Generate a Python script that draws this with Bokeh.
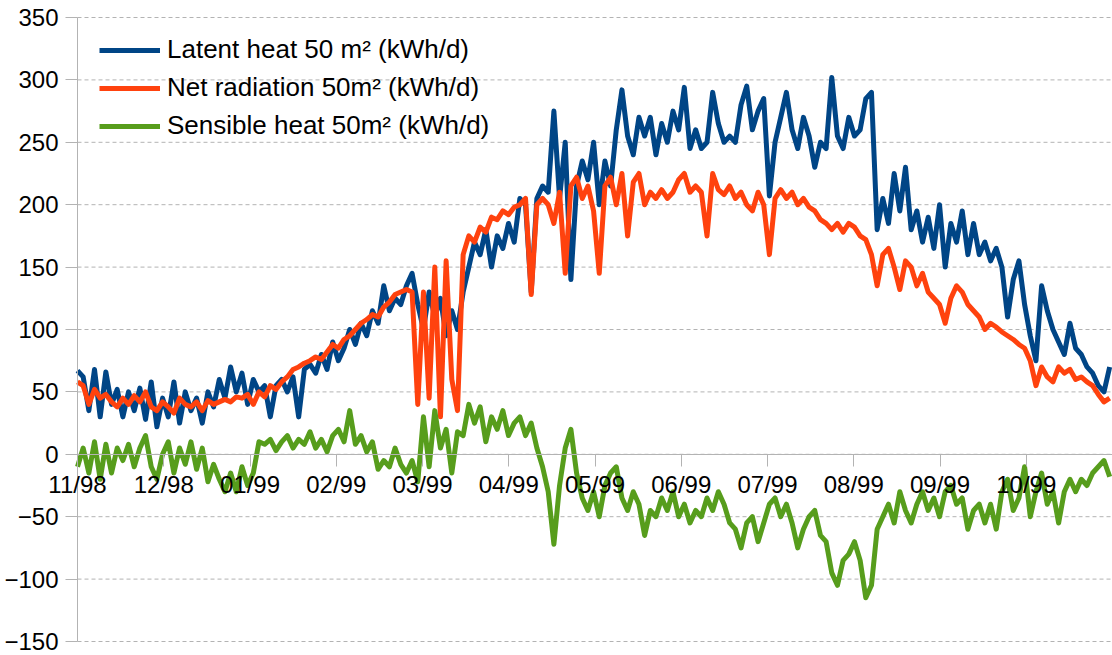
from bokeh.plotting import figure
from bokeh.models import FixedTicker, Range1d, Legend, LegendItem, ColumnDataSource, Label
from bokeh.embed import file_html
from bokeh.resources import INLINE

# month labels on the category (day) axis
month_labels = ["11/98", "12/98", "01/99", "02/99", "03/99", "04/99",
                "05/99", "06/99", "07/99", "08/99", "09/99", "10/99"]
days_in_year = 365
step_days = 2

latent = [67, 62, 35, 68, 30, 66, 40, 52, 30, 50, 35, 53, 28, 58, 22, 45, 30, 58, 25, 50,
          35, 45, 25, 50, 38, 60, 45, 70, 50, 65, 40, 60, 50, 55, 30, 55, 60, 50, 62, 30,
          68, 72, 65, 80, 68, 90, 75, 85, 100, 88, 105, 95, 115, 105, 135, 115, 125, 120, 135, 145,
          120, 100, 130, 110, 125, 95, 115, 100, 130, 150, 170, 160, 180, 150, 175, 165, 185, 170, 205, 200,
          130, 205, 215, 210, 275, 205, 250, 140, 215, 235, 220, 250, 200, 235, 215, 260, 292, 255, 240, 270,
          255, 270, 240, 265, 250, 275, 260, 294, 245, 260, 245, 250, 290, 265, 250, 255, 250, 280, 295, 260,
          275, 285, 207, 250, 270, 290, 260, 245, 270, 255, 230, 250, 245, 302, 255, 245, 270, 255, 260, 285,
          290, 180, 205, 185, 225, 195, 230, 180, 195, 170, 190, 165, 200, 150, 185, 170, 195, 160, 185, 160,
          170, 155, 165, 150, 110, 140, 155, 120, 95, 75, 135, 115, 100, 90, 80, 105, 85, 80, 70, 65,
          55, 50, 70]

net_rad = [58, 55, 40, 52, 45, 48, 42, 38, 45, 40, 47, 42, 50, 38, 35, 42, 38, 33, 45, 40,
           38, 42, 35, 43, 40, 42, 44, 42, 46, 45, 48, 40, 50, 46, 55, 52, 58, 62, 68, 70,
           73, 75, 78, 76, 82, 88, 85, 92, 95, 100, 105, 108, 112, 110, 118, 122, 128, 130, 132, 130,
           40, 130, 45, 150, 30, 155, 60, 35, 160, 175, 170, 182, 178, 190, 188, 195, 192, 198, 200, 205,
           128, 200, 205, 200, 185, 210, 145, 215, 222, 205, 215, 195, 145, 215, 222, 200, 225, 175, 218, 225,
           200, 210, 205, 212, 205, 210, 220, 225, 210, 215, 210, 175, 225, 212, 208, 215, 205, 210, 200, 195,
           210, 200, 160, 205, 212, 205, 210, 200, 205, 198, 195, 188, 185, 180, 185, 178, 185, 182, 175, 172,
           160, 135, 160, 165, 150, 132, 155, 150, 135, 145, 130, 125, 120, 105, 125, 135, 130, 120, 115, 110,
           100, 105, 102, 98, 95, 92, 88, 85, 75, 55, 70, 62, 58, 70, 65, 68, 60, 62, 58, 55,
           48, 42, 45]

sensible = [-10, 5, -15, 10, -20, 8, -15, 5, -5, 8, -10, 5, 15, -10, -20, 0, 10, -15, 5, -8,
            10, -12, 5, -22, -8, -20, -30, -15, -30, -10, -25, -15, 10, 8, 12, 3, 10, 15, 5, 12,
            8, 18, 5, 12, 2, 15, 20, 10, 35, 8, 15, 2, 10, -12, -5, -10, 5, -8, -15, -5,
            -22, 30, -10, 35, 5, 20, -15, 18, 15, 40, 25, 38, 10, 30, 20, 35, 15, 25, 30, 15,
            25, 5, -10, -30, -72, -25, 5, 20, -15, -35, -45, -30, -50, -25, -15, -10, -35, -45, -30, -40,
            -65, -45, -50, -35, -45, -30, -50, -40, -55, -45, -50, -35, -45, -30, -40, -55, -60, -75, -55, -50,
            -70, -55, -40, -35, -50, -40, -55, -75, -60, -50, -45, -65, -70, -95, -105, -85, -80, -70, -85, -115,
            -105, -60, -50, -40, -55, -30, -45, -55, -40, -30, -45, -35, -50, -30, -25, -40, -35, -60, -45, -40,
            -55, -40, -60, -30, -20, -45, -35, -10, -50, -30, -15, -40, -30, -55, -30, -20, -30, -20, -25, -15,
            -10, -5, -18]

days = [i * step_days for i in range(len(latent))]

y_ticks = [-150, -100, -50, 0, 50, 100, 150, 200, 250, 300, 350]
y_min, y_max = -150, 350

FONT = "Liberation Sans"
GRID = "#b3b3b3"

# layout: the frame fills the whole figure; the data area sits inside it with pads,
# so axes fixed at day 0 / value 0 and their labels are never clipped
FIG_W, FIG_H = 1112, 655
PAD_L, PAD_T, PAD_B = 77, 17, 14
DATA_W = FIG_W - PAD_L
DATA_H = FIG_H - PAD_T - PAD_B
x_start = -days_in_year * PAD_L / DATA_W
units_per_px = (y_max - y_min) / DATA_H

p = figure(width=FIG_W, height=FIG_H, output_backend="svg", toolbar_location=None,
           x_range=Range1d(x_start, days_in_year),
           y_range=Range1d(y_min - PAD_B * units_per_px, y_max + PAD_T * units_per_px),
           min_border_left=0, min_border_right=0, min_border_top=0, min_border_bottom=0)
p.outline_line_color = None
p.background_fill_color = "white"
p.xgrid.grid_line_color = None
p.ygrid.grid_line_color = None

# horizontal dashed grid lines, from the y axis to the right edge
p.segment(x0=[0] * len(y_ticks), x1=[days_in_year] * len(y_ticks), y0=y_ticks, y1=y_ticks,
          line_color=GRID, line_width=1, line_dash="4 3")

src = ColumnDataSource(dict(day=days, latent=latent, net=net_rad, sens=sensible))
r1 = p.line("day", "latent", source=src, line_color="#004586", line_width=5, line_join="round")
r2 = p.line("day", "net", source=src, line_color="#ff420e", line_width=5, line_join="round")
r3 = p.line("day", "sens", source=src, line_color="#579d1c", line_width=5, line_join="round")

# x axis crossing at 0 (line and ticks); labels drawn as single labels
month_ticks = [i * days_in_year / len(month_labels) for i in range(len(month_labels))]
p.xaxis.fixed_location = 0
p.xaxis.bounds = (0, days_in_year)
p.xaxis.ticker = FixedTicker(ticks=month_ticks)
p.xaxis.axis_line_color = GRID
p.xaxis.major_tick_line_color = GRID
p.xaxis.major_tick_in = 0
p.xaxis.major_tick_out = 12
p.xaxis.minor_tick_line_color = None
p.xaxis.major_label_text_alpha = 0
p.xaxis.major_label_text_font_size = "1px"

for t, lab in zip(month_ticks, month_labels):
    p.add_layout(Label(x=t, y=0, text=lab, y_offset=-17,
                       text_align="center", text_baseline="top",
                       text_font=FONT, text_font_size="24px", text_color="black"))

# y axis fixed at day 0
p.yaxis.fixed_location = 0
p.yaxis.bounds = (y_min, y_max)
p.yaxis.ticker = FixedTicker(ticks=y_ticks)
p.yaxis.axis_line_color = GRID
p.yaxis.major_tick_line_color = GRID
p.yaxis.major_tick_in = 0
p.yaxis.major_tick_out = 12
p.yaxis.minor_tick_line_color = None
p.yaxis.major_label_text_font = FONT
p.yaxis.major_label_text_font_size = "24px"
p.yaxis.major_label_text_color = "black"
p.yaxis.major_label_standoff = 7

legend = Legend(items=[
    LegendItem(label="Latent heat 50 m² (kWh/d)", renderers=[r1]),
    LegendItem(label="Net radiation 50m² (kWh/d)", renderers=[r2]),
    LegendItem(label="Sensible heat 50m² (kWh/d)", renderers=[r3]),
], location=(PAD_L + 22, PAD_B + 500))
legend.margin = 0
legend.padding = 0
legend.border_line_color = None
legend.background_fill_alpha = 0
legend.label_text_font = FONT
legend.label_text_font_size = "26px"
legend.label_text_color = "black"
legend.glyph_width = 61
legend.glyph_height = 30
legend.label_height = 30
legend.spacing = 7
legend.label_standoff = 7
p.add_layout(legend, "center")

open("out.html", "w").write(file_html(p, INLINE))
